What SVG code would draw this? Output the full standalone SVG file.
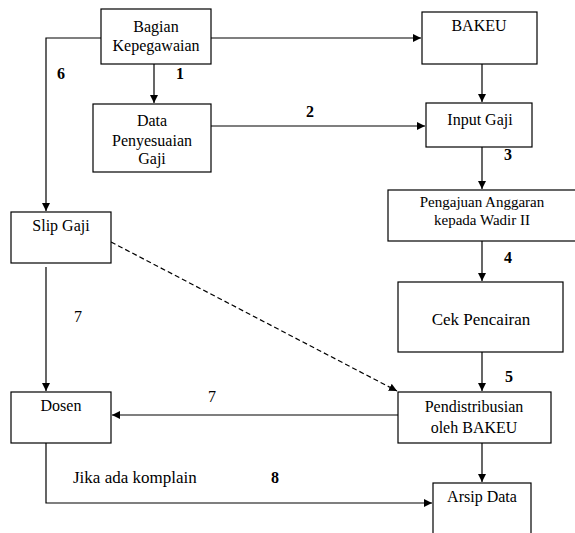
<svg xmlns="http://www.w3.org/2000/svg" width="575" height="533" viewBox="0 0 575 533">
<defs>
<marker id="ah" markerWidth="8" markerHeight="8" refX="8" refY="4" orient="auto" markerUnits="userSpaceOnUse"><path d="M0,0 L8,4 L0,8 Z" fill="#000"/></marker>
<style>
.box{fill:#fff;stroke:#000;stroke-width:1.2}
.c{fill:none;stroke:#000;stroke-width:1.2}
</style>
</defs>
<rect width="575" height="533" fill="#fff"/>
<g id="connectors">
<path class="c" d="M101,38 H46 V211" marker-end="url(#ah)"/>
<path class="c" d="M211,38 H421" marker-end="url(#ah)"/>
<path class="c" d="M154,64 V103" marker-end="url(#ah)"/>
<path class="c" d="M211,126 H425" marker-end="url(#ah)"/>
<path class="c" d="M482,64 V102" marker-end="url(#ah)"/>
<path class="c" d="M482,147 V189" marker-end="url(#ah)"/>
<path class="c" d="M482,241 V281" marker-end="url(#ah)"/>
<path class="c" d="M482,352 V391" marker-end="url(#ah)"/>
<path class="c" d="M482,443 V482" marker-end="url(#ah)"/>
<path class="c" d="M46,267 V391" marker-end="url(#ah)"/>
<path class="c" d="M398,415 H112" marker-end="url(#ah)"/>
<path class="c" d="M46,443 V503 H432" marker-end="url(#ah)"/>
<path class="c" d="M111,242 L397,391" stroke-dasharray="5,3" marker-end="url(#ah)"/>
<text x="61" y="79" font-family="Liberation Serif" font-size="16" font-weight="bold" text-anchor="middle">6</text>
<text x="180" y="79" font-family="Liberation Serif" font-size="16" font-weight="bold" text-anchor="middle">1</text>
<text x="310" y="117" font-family="Liberation Serif" font-size="16" font-weight="bold" text-anchor="middle">2</text>
<text x="508" y="160" font-family="Liberation Serif" font-size="16" font-weight="bold" text-anchor="middle">3</text>
<text x="508" y="263" font-family="Liberation Serif" font-size="16" font-weight="bold" text-anchor="middle">4</text>
<text x="509" y="382" font-family="Liberation Serif" font-size="16" font-weight="bold" text-anchor="middle">5</text>
<text x="78" y="322" font-family="Liberation Serif" font-size="16" text-anchor="middle">7</text>
<text x="212" y="402" font-family="Liberation Serif" font-size="16" text-anchor="middle">7</text>
<text x="275" y="483" font-family="Liberation Serif" font-size="16" font-weight="bold" text-anchor="middle">8</text>
<text x="73" y="483" font-family="Liberation Serif" font-size="17">Jika ada komplain</text>
</g>
<g id="bagian"><rect class="box" x="101" y="9" width="110" height="55"/><text x="156" y="32" font-family="Liberation Serif" font-size="16" text-anchor="middle">Bagian</text><text x="156" y="51" font-family="Liberation Serif" font-size="16" text-anchor="middle">Kepegawaian</text></g>
<g id="data"><rect class="box" x="93" y="104" width="118" height="68"/><text x="152" y="126" font-family="Liberation Serif" font-size="16" text-anchor="middle">Data</text><text x="152" y="146" font-family="Liberation Serif" font-size="16" text-anchor="middle">Penyesuaian</text><text x="152" y="164" font-family="Liberation Serif" font-size="16" text-anchor="middle">Gaji</text></g>
<g id="bakeu"><rect class="box" x="422" y="12" width="115" height="52"/><text x="479" y="31" font-family="Liberation Serif" font-size="16" text-anchor="middle">BAKEU</text></g>
<g id="input"><rect class="box" x="426" y="103" width="106" height="44"/><text x="480" y="125" font-family="Liberation Serif" font-size="16" text-anchor="middle">Input Gaji</text></g>
<g id="pengajuan"><rect class="box" x="388" y="190" width="195" height="51"/><text x="482" y="207" font-family="Liberation Serif" font-size="15" text-anchor="middle">Pengajuan Anggaran</text><text x="482" y="225" font-family="Liberation Serif" font-size="15" text-anchor="middle">kepada Wadir II</text></g>
<g id="cek"><rect class="box" x="398" y="282" width="165" height="70"/><text x="481" y="325" font-family="Liberation Serif" font-size="17" text-anchor="middle">Cek Pencairan</text></g>
<g id="pendistribusian"><rect class="box" x="398" y="392" width="153" height="51"/><text x="474" y="412" font-family="Liberation Serif" font-size="16" text-anchor="middle">Pendistribusian</text><text x="474" y="433" font-family="Liberation Serif" font-size="16" text-anchor="middle">oleh BAKEU</text></g>
<g id="arsip"><rect class="box" x="433" y="483" width="98" height="60"/><text x="482" y="502" font-family="Liberation Serif" font-size="16" text-anchor="middle">Arsip Data</text></g>
<g id="slip"><rect class="box" x="11" y="212" width="100" height="51"/><text x="61" y="231" font-family="Liberation Serif" font-size="16" text-anchor="middle">Slip Gaji</text></g>
<g id="dosen"><rect class="box" x="11" y="392" width="100" height="51"/><text x="61" y="411" font-family="Liberation Serif" font-size="16" text-anchor="middle">Dosen</text></g>
</svg>
